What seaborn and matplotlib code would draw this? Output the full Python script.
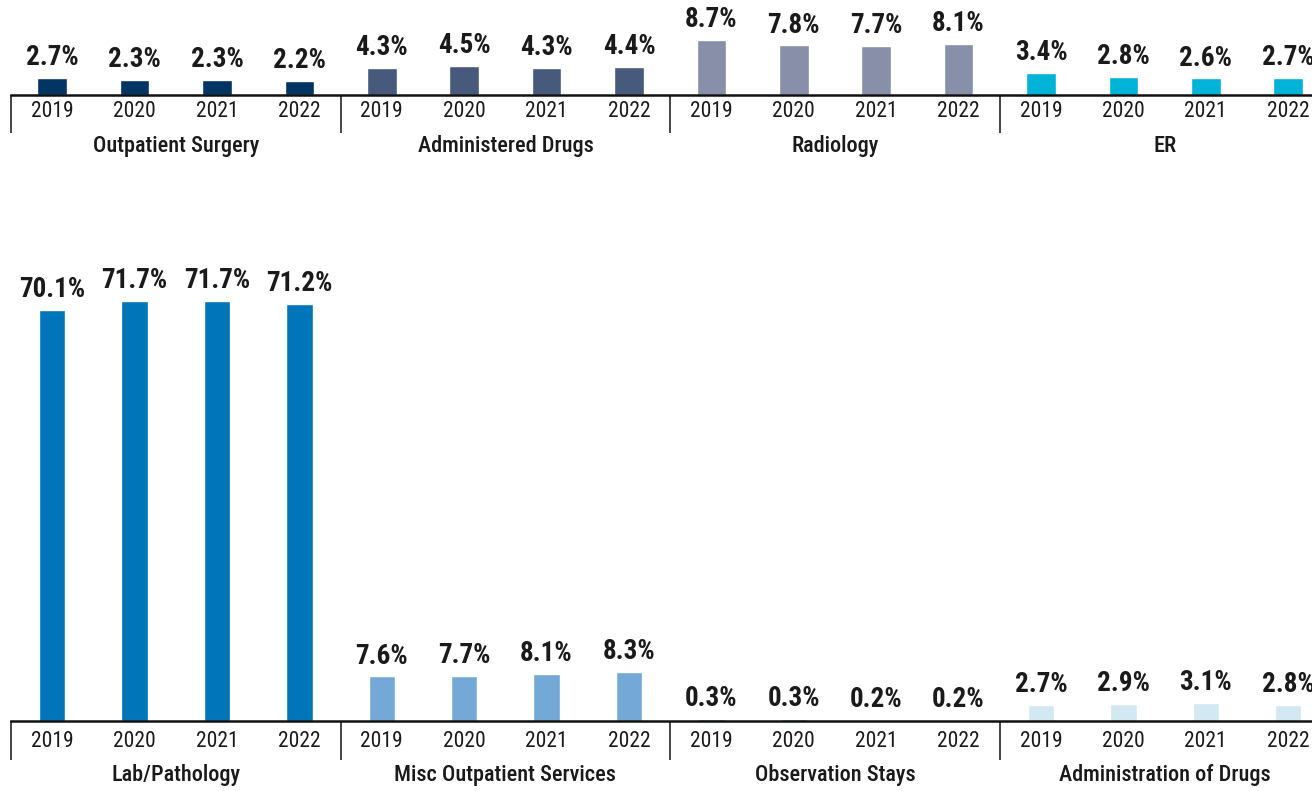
import matplotlib
matplotlib.use("Agg")
import matplotlib.pyplot as plt
import matplotlib.transforms as mtransforms
from matplotlib import font_manager
import seaborn as sns
import pandas as pd

# Share of outpatient spending by service category, 2019-2022
years = ["2019", "2020", "2021", "2022"]

top_groups = ["Outpatient Surgery", "Administered Drugs", "Radiology", "ER"]
outpatient_surgery = [2.7, 2.3, 2.3, 2.2]
administered_drugs = [4.3, 4.5, 4.3, 4.4]
radiology = [8.7, 7.8, 7.7, 8.1]
er = [3.4, 2.8, 2.6, 2.7]

bottom_groups = ["Lab/Pathology", "Misc Outpatient Services",
                 "Observation Stays", "Administration of Drugs"]
lab_pathology = [70.1, 71.7, 71.7, 71.2]
misc_outpatient = [7.6, 7.7, 8.1, 8.3]
observation_stays = [0.3, 0.3, 0.2, 0.2]
administration_of_drugs = [2.7, 2.9, 3.1, 2.8]

top_colors = ["#033564", "#475a7b", "#8790a8", "#00b3d7"]
bottom_colors = ["#0075b9", "#74a8d7", "#4a9fd8", "#d2e8f2"]

sns.set_theme(style="white")

# prefer a condensed face when one is installed
installed = {f.name for f in font_manager.fontManager.ttflist}
narrow = [n for n in ["Liberation Sans Narrow", "DejaVu Sans Condensed",
                      "Roboto Condensed", "Open Sans Condensed"] if n in installed]
FAMILY = narrow[0] if narrow else "Roboto"
plt.rcParams["font.family"] = [FAMILY, "DejaVu Sans"]
SCALE = 1.0 if narrow else 0.92

W, H = 1312, 791
fig = plt.figure(figsize=(W / 100, H / 100), dpi=100)
TEXT = "#1a1a1a"


def make_frame(groups, series):
    rows = []
    for g, vals in zip(groups, series):
        for y, v in zip(years, vals):
            rows.append({"slot": f"{g}|{y}", "group": g, "year": y, "value": v})
    return pd.DataFrame(rows)


def draw_row(df, groups, colors, rect, ymax, bar_width, year_pad, group_off, sep_len):
    left, base_px, top_px = rect
    ax = fig.add_axes([left / W, 1 - base_px / H, 1 - left / W, (base_px - top_px) / H])
    order = list(df["slot"])
    sns.barplot(data=df, x="slot", y="value", hue="group", order=order,
                hue_order=groups, palette=colors, dodge=False, width=bar_width,
                legend=False, ax=ax, saturation=1)
    slot_px = 82.4
    ax.set_xlim(-0.5, -0.5 + (W - left) / slot_px)
    ax.set_ylim(0, ymax)
    ax.set_xlabel("")
    ax.set_ylabel("")
    ax.set_yticks([])
    ax.set_xticks(range(len(order)))
    ax.set_xticklabels([s.split("|")[1] for s in order], fontsize=15.5 * SCALE, color=TEXT)
    ax.tick_params(axis="x", length=0, pad=year_pad)
    for side in ["top", "right", "left"]:
        ax.spines[side].set_visible(False)
    ax.spines["bottom"].set_color("#111111")
    ax.spines["bottom"].set_linewidth(1.8)

    # value labels above the bars
    for container in ax.containers:
        ax.bar_label(container, labels=[f"{b.get_height():.1f}%" for b in container],
                     padding=5, fontsize=19.5 * SCALE, fontweight="bold", color=TEXT)

    # group titles and separators under the axis
    trans = mtransforms.blended_transform_factory(ax.transData, ax.transAxes)
    axis_h_px = base_px - top_px
    for i, g in enumerate(groups):
        x0 = i * 4 - 0.5
        ax.text(x0 + 2, -group_off / axis_h_px, g, transform=trans,
                ha="center", va="center", fontsize=16 * SCALE, fontweight="medium",
                color=TEXT)
        ax.plot([x0, x0], [0, -sep_len / axis_h_px], transform=trans,
                color="#444444", lw=1.4, clip_on=False, solid_capstyle="butt")
    return ax


top_df = make_frame(top_groups, [outpatient_surgery, administered_drugs, radiology, er])
bottom_df = make_frame(bottom_groups, [lab_pathology, misc_outpatient,
                                       observation_stays, administration_of_drugs])

draw_row(top_df, top_groups, top_colors, (11, 95, 0), 95 / 6.35, 0.36,
         year_pad=4, group_off=51, sep_len=38)
draw_row(bottom_df, bottom_groups, bottom_colors, (11, 721, 240), 481 / 5.86, 0.32,
         year_pad=7, group_off=54, sep_len=39)

fig.savefig("out.png", dpi=100, facecolor="white")
